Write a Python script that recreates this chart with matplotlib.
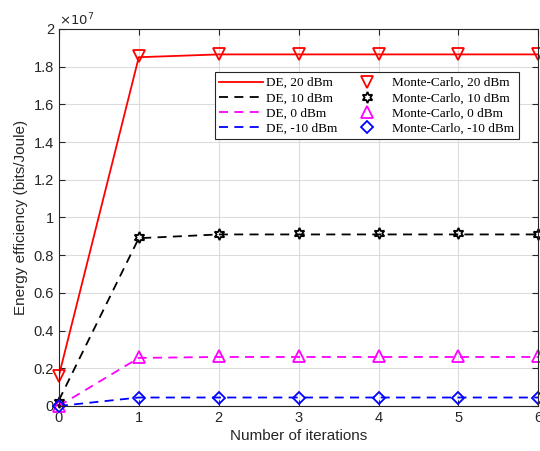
import matplotlib
matplotlib.use('Agg')
import matplotlib.pyplot as plt
from matplotlib.ticker import FuncFormatter, MultipleLocator

# Data
iterations = [0, 1, 2, 3, 4, 5, 6]
de_20 = [0.16e7, 1.85e7, 1.865e7, 1.865e7, 1.865e7, 1.865e7, 1.865e7]
de_10 = [0.03e7, 0.89e7, 0.91e7, 0.91e7, 0.91e7, 0.91e7, 0.91e7]
de_0 = [0.0, 0.255e7, 0.26e7, 0.26e7, 0.26e7, 0.26e7, 0.26e7]
de_m10 = [0.0, 0.045e7, 0.045e7, 0.045e7, 0.045e7, 0.045e7, 0.045e7]
mc_20 = [0.16e7, 1.855e7, 1.865e7, 1.865e7, 1.865e7, 1.865e7, 1.865e7]
mc_10 = [0.02e7, 0.895e7, 0.91e7, 0.915e7, 0.915e7, 0.915e7, 0.91e7]
mc_0 = [0.0, 0.26e7, 0.265e7, 0.265e7, 0.265e7, 0.265e7, 0.265e7]
mc_m10 = [0.0, 0.045e7, 0.045e7, 0.045e7, 0.045e7, 0.045e7, 0.045e7]

plt.rcParams['font.family'] = ['Liberation Sans', 'DejaVu Sans']

fig = plt.figure(figsize=(5.4, 4.51), dpi=100)
ax = fig.add_axes([0.109, 0.0998, 0.888, 0.836])

lw = 1.3
ms = 8
l1, = ax.plot(iterations, de_20, color='red', linestyle='-', linewidth=lw, label='DE, 20 dBm')
l2, = ax.plot(iterations, de_10, color='black', linestyle=(0, (5, 3.5)), linewidth=lw, label='DE, 10 dBm')
l3, = ax.plot(iterations, de_0, color='magenta', linestyle=(0, (5, 3.5)), linewidth=lw, label='DE, 0 dBm')
l4, = ax.plot(iterations, de_m10, color='blue', linestyle=(0, (5, 3.5)), linewidth=lw, label='DE, -10 dBm')

m1, = ax.plot(iterations, mc_20, linestyle='none', marker='v', markersize=ms, mfc='none',
              mec='red', mew=1.3, label='Monte-Carlo, 20 dBm', clip_on=False)
m2, = ax.plot(iterations, mc_10, linestyle='none', marker=(6, 1, 0), markersize=ms, mfc='none',
              mec='black', mew=1.3, label='Monte-Carlo, 10 dBm', clip_on=False)
m3, = ax.plot(iterations, mc_0, linestyle='none', marker='^', markersize=ms, mfc='none',
              mec='magenta', mew=1.3, label='Monte-Carlo, 0 dBm', clip_on=False)
m4, = ax.plot(iterations, mc_m10, linestyle='none', marker='D', markersize=6.5, mfc='none',
              mec='blue', mew=1.3, label='Monte-Carlo, -10 dBm', clip_on=False)

ax.set_xlim(0, 6)
ax.set_ylim(0, 2e7)
ax.xaxis.set_major_locator(MultipleLocator(1))
ax.yaxis.set_major_locator(MultipleLocator(0.2e7))
ax.yaxis.set_major_formatter(FuncFormatter(lambda v, p: '%g' % round(v / 1e7, 2)))

ax.grid(True, color='#dcdcdc', linewidth=0.8)
ax.set_axisbelow(True)
ax.tick_params(direction='in', top=True, right=True, labelsize=10.5, colors='#262626',
               length=4)
for s in ax.spines.values():
    s.set_color('#262626')
    s.set_linewidth(0.8)

ax.set_xlabel('Number of iterations', fontsize=11, color='#262626', labelpad=3)
ax.set_ylabel('Energy efficiency (bits/Joule)', fontsize=11, color='#262626', labelpad=4)
ax.text(0.0, 1.003, r'$\times10^7$', transform=ax.transAxes, fontsize=9.5,
        color='#262626', ha='left', va='bottom')

leg = ax.legend([l1, l2, l3, l4, m1, m2, m3, m4],
                [h.get_label() for h in [l1, l2, l3, l4, m1, m2, m3, m4]],
                ncol=2, loc='upper left', bbox_to_anchor=(0.325, 0.885),
                prop={'family': 'Liberation Serif', 'size': 9.5},
                frameon=True, fancybox=False, edgecolor='#262626', framealpha=1,
                handlelength=3.3, handletextpad=0.25, columnspacing=0.6,
                labelspacing=0.22, borderpad=0.35, borderaxespad=0)
leg.get_frame().set_linewidth(0.8)

fig.savefig('out.png', dpi=100)
